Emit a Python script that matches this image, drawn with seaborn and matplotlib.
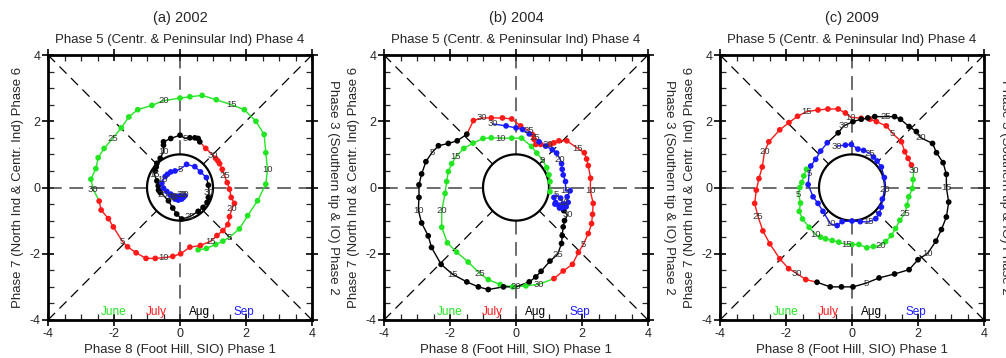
import numpy as np
import pandas as pd
import matplotlib
matplotlib.use("Agg")
import matplotlib.pyplot as plt
import seaborn as sns

sns.set_theme(style="white")
plt.rcParams['font.family'] = ['Liberation Sans', 'DejaVu Sans']
plt.rcParams['axes.unicode_minus'] = False

# ---------------- daily RMM-style index trajectories (x = RMM1, y = RMM2) ----------------
# 2002
jun02_x = [0.55, 0.80, 1.08, 1.30, 1.50, 1.80, 2.05, 2.35, 2.60, 2.65, 2.60, 2.55, 2.30, 1.95, 1.55,
           1.10, 0.67, 0.30, 0.00, -0.50, -0.85, -1.28, -1.55, -1.78, -2.05, -2.30, -2.48, -2.55, -2.70, -2.63]
jun02_y = [-1.88, -1.84, -1.72, -1.62, -1.50, -1.25, -0.85, -0.40, 0.10, 0.55, 1.05, 1.60, 2.00, 2.35, 2.50,
           2.65, 2.78, 2.74, 2.70, 2.62, 2.48, 2.35, 2.13, 1.80, 1.47, 1.18, 0.90, 0.57, 0.25, -0.05]
jul02_x = [-2.45, -2.39, -2.17, -2.02, -1.75, -1.59, -1.33, -1.03, -0.75, -0.50, -0.22, 0.02, 0.30, 0.62, 0.93,
           1.12, 1.30, 1.45, 1.50, 1.58, 1.65, 1.55, 1.50, 1.43, 1.35, 1.28, 1.20, 1.15, 1.08, 1.00, 0.78]
jul02_y = [-0.41, -0.68, -0.94, -1.19, -1.62, -1.79, -1.97, -2.14, -2.14, -2.12, -2.08, -2.00, -1.80, -1.75, -1.62,
           -1.45, -1.30, -1.12, -0.88, -0.63, -0.48, -0.30, -0.05, 0.15, 0.35, 0.55, 0.72, 0.80, 0.88, 0.98, 1.18]
aug02_x = [0.60, 0.55, 0.45, 0.30, 0.15, 0.00, -0.28, -0.50, -0.50, -0.50, -0.60, -0.70, -0.72, -0.75, -0.78,
           -0.70, -0.66, -0.65, -0.60, -0.52, -0.35, -0.22, -0.10, 0.05, 0.30, 0.55, 0.70, 0.82, 0.86, 0.88, 0.86]
aug02_y = [1.38, 1.48, 1.50, 1.50, 1.48, 1.58, 1.48, 1.38, 1.28, 1.08, 0.88, 0.73, 0.62, 0.50, 0.40,
           0.20, 0.05, -0.08, -0.15, -0.22, -0.40, -0.62, -0.80, -0.95, -0.88, -0.72, -0.60, -0.45, -0.30, -0.15, 0.07]
sep02_x = [0.80, 0.62, 0.45, 0.20, 0.00, -0.15, -0.28, -0.38, -0.45, -0.52, -0.55, -0.50, -0.40, -0.30, -0.20,
           -0.10, 0.00, 0.10, 0.15, 0.10, 0.00, -0.10, -0.20, -0.28, -0.25, -0.15, -0.05, 0.05, 0.10, 0.05]
sep02_y = [0.30, 0.47, 0.63, 0.70, 0.55, 0.50, 0.47, 0.40, 0.33, 0.23, 0.13, -0.02, -0.12, -0.23, -0.28,
           -0.31, -0.33, -0.30, -0.25, -0.20, -0.25, -0.28, -0.25, -0.20, -0.30, -0.35, -0.38, -0.35, -0.28, -0.22]

# 2004
jun04_x = [1.03, 1.03, 1.00, 0.93, 0.81, 0.63, 0.47, 0.17, -0.13, -0.48, -0.75, -1.00, -1.30, -1.58, -1.82,
           -1.95, -2.05, -2.10, -2.15, -2.25, -2.25, -2.08, -1.80, -1.45, -1.09, -0.84, -0.48, -0.10, 0.30, 0.70]
jun04_y = [-0.13, 0.18, 0.38, 0.60, 0.83, 1.04, 1.24, 1.49, 1.49, 1.49, 1.50, 1.48, 1.34, 1.18, 0.93,
           0.72, 0.48, 0.18, -0.18, -0.70, -1.20, -1.67, -1.95, -2.25, -2.60, -2.78, -2.93, -3.00, -2.97, -2.92]
jul04_x = [1.15, 1.43, 1.71, 1.89, 2.04, 2.19, 2.29, 2.32, 2.34, 2.25, 2.26, 2.19, 2.14, 2.07, 1.86,
           1.54, 1.30, 1.15, 1.05, 0.95, 0.75, 0.60, 0.55, 0.50, 0.38, 0.14, -0.13, -0.41, -0.75, -1.04, -1.29]
jul04_y = [-2.75, -2.52, -2.32, -1.96, -1.72, -1.39, -1.09, -0.81, -0.48, -0.10, 0.28, 0.66, 0.86, 1.05, 1.19,
           1.41, 1.41, 1.35, 1.30, 1.30, 1.30, 1.30, 1.45, 1.60, 1.72, 1.86, 2.07, 2.10, 2.10, 2.10, 2.02]
aug04_x = [-1.49, -1.78, -2.05, -2.35, -2.55, -2.73, -2.86, -2.94, -2.94, -2.96, -2.86, -2.66, -2.56, -2.27, -1.92,
           -1.49, -1.14, -0.84, -0.38, 0.00, 0.40, 0.60, 0.76, 1.03, 1.26, 1.38, 1.40, 1.43, 1.47, 1.56, 1.45]
aug04_y = [1.61, 1.41, 1.33, 1.26, 1.05, 0.78, 0.41, 0.08, -0.30, -0.68, -1.07, -1.46, -1.81, -2.32, -2.62,
           -2.85, -3.00, -3.08, -3.00, -3.00, -2.85, -2.70, -2.53, -2.22, -2.02, -1.69, -1.45, -1.19, -1.00, -0.83, -0.70]
sep04_x = [1.40, 1.30, 1.20, 1.15, 1.22, 1.35, 1.45, 1.32, 1.18, 1.43, 1.52, 1.58, 1.55, 1.64, 1.50,
           1.50, 1.43, 1.40, 1.38, 1.34, 1.23, 1.10, 0.90, 0.70, 0.58, 0.40, 0.20, 0.00, -0.30, -0.70]
sep04_y = [-0.62, -0.55, -0.45, -0.30, -0.22, -0.32, -0.50, -0.62, -0.50, -0.45, -0.58, -0.45, -0.28, -0.10, -0.10,
           0.18, 0.38, 0.55, 0.72, 0.85, 1.04, 1.14, 1.25, 1.38, 1.50, 1.62, 1.75, 1.80, 1.86, 1.92]

# 2009
jun09_x = [-1.38, -1.46, -1.52, -1.58, -1.62, -1.56, -1.60, -1.50, -1.30, -1.10, -0.95, -0.80, -0.60, -0.40, -0.17,
           0.00, 0.21, 0.45, 0.65, 0.86, 1.02, 1.19, 1.32, 1.45, 1.60, 1.67, 1.72, 1.83, 1.85, 1.87]
jun09_y = [0.55, 0.35, 0.15, 0.00, -0.20, -0.47, -0.72, -0.95, -1.20, -1.42, -1.50, -1.55, -1.60, -1.65, -1.72,
           -1.72, -1.72, -1.82, -1.78, -1.75, -1.63, -1.45, -1.24, -0.99, -0.79, -0.54, -0.28, -0.03, 0.24, 0.50]
jul09_x = [1.80, 1.70, 1.60, 1.50, 1.22, 1.04, 0.74, 0.54, 0.28, -0.03, -0.20, -0.42, -0.73, -1.03, -1.38,
           -1.65, -1.91, -2.19, -2.52, -2.65, -2.72, -2.82, -2.90, -2.95, -2.85, -2.70, -2.49, -2.19, -1.92, -1.68, -1.40]
jul09_y = [0.68, 0.88, 1.08, 1.38, 1.64, 1.86, 1.99, 2.06, 2.09, 2.12, 2.25, 2.37, 2.37, 2.34, 2.29,
           2.15, 1.96, 1.74, 1.38, 1.08, 0.62, 0.27, -0.08, -0.48, -0.87, -1.31, -1.70, -2.15, -2.45, -2.59, -2.78]
aug09_x = [-1.06, -0.66, -0.32, 0.03, 0.42, 0.82, 1.29, 1.73, 2.00, 2.30, 2.54, 2.71, 2.86, 2.93, 2.86,
           2.86, 2.76, 2.56, 2.44, 2.07, 1.95, 1.73, 1.47, 1.29, 1.02, 0.69, 0.48, 0.28, 0.03, -0.25, -0.42]
aug09_y = [-2.86, -3.00, -3.00, -3.00, -2.89, -2.73, -2.61, -2.48, -2.18, -1.98, -1.62, -1.27, -0.89, -0.44, 0.00,
           0.40, 0.75, 1.05, 1.33, 1.51, 1.69, 1.84, 2.06, 2.14, 2.14, 2.14, 2.10, 2.06, 1.99, 1.86, 1.65]
sep09_x = [-0.75, -0.95, -1.10, -1.25, -1.30, -1.33, -1.18, -1.03, -0.88, -0.65, -0.45, -0.30, 0.00, 0.25, 0.50,
           0.72, 0.82, 0.89, 0.92, 1.00, 0.98, 0.89, 0.76, 0.65, 0.55, 0.35, 0.18, -0.02, -0.20, -0.45]
sep09_y = [1.35, 1.10, 0.85, 0.65, 0.42, 0.09, -0.28, -0.48, -0.72, -1.10, -1.15, -1.03, -1.01, -1.03, -1.04,
           -0.94, -0.79, -0.59, -0.35, -0.05, 0.30, 0.62, 0.80, 0.92, 1.02, 1.12, 1.16, 1.30, 1.28, 1.25]

months = ["June", "July", "Aug", "Sep"]
month_colors = ["#22e622", "#ff1a1a", "#000000", "#1a1aff"]
month_label_x = [-2.0, -0.73, 0.6, 1.94]
panel_titles = ["(a) 2002", "(b) 2004", "(c) 2009"]

years = {
    "(a) 2002": [(jun02_x, jun02_y), (jul02_x, jul02_y), (aug02_x, aug02_y), (sep02_x, sep02_y)],
    "(b) 2004": [(jun04_x, jun04_y), (jul04_x, jul04_y), (aug04_x, aug04_y), (sep04_x, sep04_y)],
    "(c) 2009": [(jun09_x, jun09_y), (jul09_x, jul09_y), (aug09_x, aug09_y), (sep09_x, sep09_y)],
}

W, H = 1006, 358
fig = plt.figure(figsize=(W / 100, H / 100), dpi=100)
lefts = [48, 384, 720]
ax_w, ax_h = 264, 265
ax_bottom = H - 320


def draw_reference(ax):
    r = 1.0
    s = r / np.sqrt(2)
    # horizontal and vertical axes outside the unit circle
    for seg in [([-4, -r], [0, 0]), ([r, 4], [0, 0]), ([0, 0], [-4, -r]), ([0, 0], [r, 4])]:
        ax.plot(seg[0], seg[1], color="#444444", lw=1.1, dashes=(9, 5), zorder=1)
    # diagonal phase boundaries
    for sx, sy in [(1, 1), (1, -1), (-1, 1), (-1, -1)]:
        ax.plot([sx * 4, sx * s], [sy * 4, sy * s], color="black", lw=0.9, dashes=(8, 5), zorder=1)
    th = np.linspace(0, 2 * np.pi, 300)
    ax.plot(np.cos(th), np.sin(th), color="black", lw=1.6, zorder=2)


for i, title in enumerate(panel_titles):
    ax = fig.add_axes([lefts[i] / W, ax_bottom / H, ax_w / W, ax_h / H])
    draw_reference(ax)
    tracks = years[title]
    for m, (mx, my) in enumerate(tracks):
        xs = list(mx)
        ys = list(my)
        # carry the line on to the first day of the next month
        if m + 1 < len(tracks):
            xs.append(tracks[m + 1][0][0])
            ys.append(tracks[m + 1][1][0])
        line_df = pd.DataFrame({"x": xs, "y": ys})
        sns.lineplot(data=line_df, x="x", y="y", sort=False, estimator=None,
                     color=month_colors[m], lw=1.0, ax=ax, zorder=3)
        day = np.arange(1, len(mx) + 1)
        pts = pd.DataFrame({"x": mx, "y": my, "day": day})
        marked = pts[pts["day"] % 5 != 0]
        sns.scatterplot(data=marked, x="x", y="y", color=month_colors[m], s=17,
                        edgecolor="none", ax=ax, zorder=4, legend=False)
        for _, row in pts[pts["day"] % 5 == 0].iterrows():
            ax.text(row["x"], row["y"], f"{int(row['day'])}", fontsize=6.8, color="#333333",
                    ha="center", va="center", zorder=5)

    ax.set_xlim(-4, 4)
    ax.set_ylim(-4, 4)
    ax.set_xticks([-4, -2, 0, 2, 4])
    ax.set_yticks([-4, -2, 0, 2, 4])
    ax.set_xticks(np.arange(-4, 4.01, 0.5), minor=True)
    ax.set_yticks(np.arange(-4, 4.01, 0.5), minor=True)
    ax.set_xticklabels(["-4", "-2", "0", "2", "4"])
    ax.set_yticklabels(["-4", "-2", "0", "2", "4"])
    ax.tick_params(which="major", direction="inout", length=9, width=1.4,
                   top=True, right=True, bottom=True, left=True,
                   labelsize=9, pad=1, labeltop=False, labelright=False)
    ax.tick_params(which="minor", direction="in", length=4, width=0.9,
                   top=True, right=True, bottom=True, left=True)
    for sp in ax.spines.values():
        sp.set_linewidth(2.0)
        sp.set_color("black")
    ax.set_xlabel("")
    ax.set_ylabel("")

    ax.text(0.5, -0.115, "Phase 8 (Foot Hill, SIO) Phase 1", transform=ax.transAxes,
            ha="center", va="center", fontsize=9.5)
    ax.text(0.5, 1.057, "Phase 5 (Centr. & Peninsular Ind) Phase 4", transform=ax.transAxes,
            ha="center", va="center", fontsize=9.5)
    ax.text(-0.112, 0.5, "Phase 7 (North Ind & Centr. Ind) Phase 6", transform=ax.transAxes,
            ha="center", va="center", rotation=90, fontsize=9.5)
    ax.text(1.078, 0.5, "Phase 3 (Southern tip & IO) Phase 2", transform=ax.transAxes,
            ha="center", va="center", rotation=-90, fontsize=9.5)
    ax.text(0.5, 1.14, title, transform=ax.transAxes, ha="center", va="center", fontsize=10.5)

    for m, name in enumerate(months):
        ax.text(month_label_x[m], -3.76, name, color=month_colors[m], ha="center", va="center",
                fontsize=8.5)

fig.savefig("out.png", dpi=100)
